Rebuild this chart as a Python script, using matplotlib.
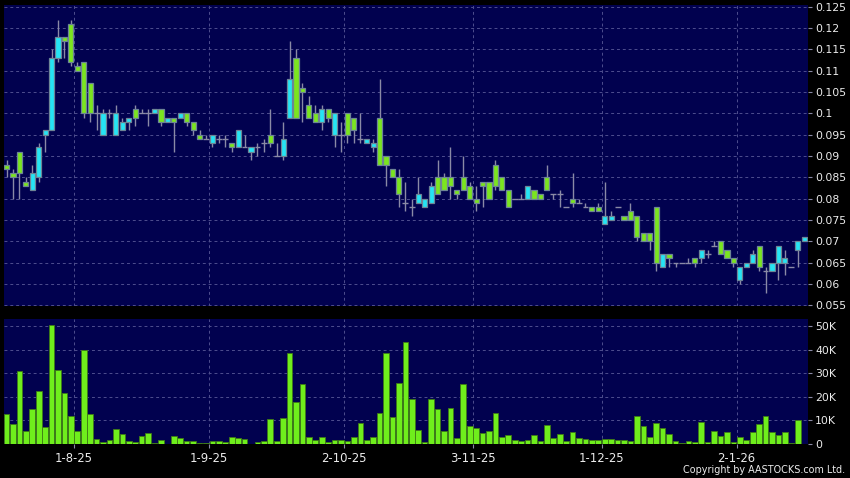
import numpy as np
import matplotlib
matplotlib.use("Agg")
import matplotlib.pyplot as plt
from matplotlib.ticker import FuncFormatter

# daily OHLC (bar 0 .. bar 124)
opens = [
    .088, .086, .091, .084, .082, .085, .095, .096, .113, .118,
    .121, .111, .112, .107, .100, .095, .100, .095, .096, .098,
    .101, .100, .100, .100, .101, .098, .099, .099, .100, .098,
    .095, .094, .093, .094, .094, .093, .092, .092, .091, .092,
    .093, .095, .090, .090, .099, .113, .106, .102, .100, .098,
    .101, .095, .095, .100, .099, .094, .093, .092, .099, .090,
    .087, .085, .079, .078, .079, .078, .079, .085, .085, .085,
    .082, .085, .083, .080, .084, .084, .088, .085, .082, .080,
    .080, .080, .082, .081, .085, .081, .081, .078, .080, .079,
    .078, .078, .078, .074, .075, .078, .076, .077, .076, .072,
    .072, .078, .064, .067, .065, .065, .065, .066, .066, .067,
    .069, .070, .068, .066, .061, .064, .065, .069, .063, .063,
    .065, .065, .064, .068, .070]
highs = [
    .089, .087, .091, .085, .088, .093, .096, .115, .122, .118,
    .122, .112, .112, .107, .102, .101, .101, .102, .099, .099,
    .102, .101, .101, .101, .101, .099, .099, .100, .100, .098,
    .096, .095, .095, .095, .095, .093, .096, .095, .092, .093,
    .094, .101, .093, .098, .117, .115, .107, .104, .102, .102,
    .101, .100, .098, .100, .099, .100, .094, .094, .108, .090,
    .087, .087, .084, .080, .085, .080, .084, .089, .086, .092,
    .082, .090, .084, .083, .084, .084, .089, .085, .082, .080,
    .081, .083, .082, .081, .088, .081, .082, .078, .086, .080,
    .079, .078, .079, .084, .077, .078, .076, .079, .076, .072,
    .072, .078, .067, .067, .065, .065, .066, .066, .068, .068,
    .070, .070, .068, .066, .064, .065, .068, .069, .064, .065,
    .069, .068, .064, .070, .071]
lows = [
    .085, .080, .080, .083, .082, .084, .091, .096, .112, .113,
    .111, .110, .099, .098, .096, .095, .099, .095, .096, .096,
    .097, .100, .097, .100, .097, .098, .091, .099, .097, .095,
    .094, .094, .092, .093, .092, .091, .092, .092, .089, .090,
    .091, .092, .090, .089, .099, .099, .098, .099, .098, .096,
    .098, .092, .091, .093, .093, .093, .093, .091, .088, .083,
    .085, .078, .077, .076, .079, .078, .079, .081, .082, .080,
    .080, .082, .080, .077, .078, .080, .082, .082, .078, .080,
    .080, .080, .080, .080, .082, .080, .078, .078, .078, .079,
    .078, .077, .077, .074, .075, .078, .075, .075, .070, .070,
    .068, .063, .064, .064, .064, .065, .065, .064, .065, .066,
    .069, .067, .066, .064, .060, .064, .065, .063, .058, .063,
    .061, .062, .064, .064, .070]
closes = [
    .087, .085, .086, .083, .086, .092, .096, .113, .118, .117,
    .112, .110, .100, .100, .100, .100, .100, .100, .098, .099,
    .099, .100, .100, .101, .098, .099, .098, .100, .098, .096,
    .094, .094, .095, .094, .094, .092, .096, .092, .092, .092,
    .093, .093, .090, .094, .108, .099, .105, .099, .098, .101,
    .099, .100, .095, .095, .096, .094, .094, .093, .088, .088,
    .085, .081, .079, .078, .081, .080, .083, .081, .082, .083,
    .081, .082, .080, .079, .083, .080, .083, .082, .078, .080,
    .080, .083, .080, .080, .082, .081, .081, .078, .079, .079,
    .078, .077, .077, .076, .076, .078, .075, .075, .071, .070,
    .070, .065, .067, .066, .065, .065, .065, .065, .068, .067,
    .069, .067, .066, .065, .064, .065, .067, .064, .063, .065,
    .069, .066, .064, .070, .071]
# volume in thousands of shares
volumes_k = [
    12.9, 8.3, 30.9, 5.6, 14.7, 22.5, 7.1, 50.3, 31.2, 21.6,
    12.0, 5.4, 39.8, 12.9, 2.0, 1.0, 1.7, 6.4, 4.2, 1.3,
    0.7, 3.5, 4.8, 0.5, 1.7, 0.1, 3.4, 2.7, 1.4, 1.3,
    0.3, 0.3, 1.4, 1.4, 0.7, 3.0, 2.5, 2.0, 0.1, 0.7,
    1.3, 10.6, 1.1, 11.0, 38.6, 17.7, 25.6, 3.0, 1.6, 3.0,
    0.8, 1.7, 1.6, 1.1, 3.1, 8.8, 1.8, 3.1, 13.1, 38.6,
    11.4, 25.8, 43.2, 19.1, 5.8, 1.0, 19.1, 15.0, 5.6, 15.3,
    2.5, 25.3, 7.6, 6.9, 4.5, 5.6, 13.3, 3.1, 3.8, 1.7,
    1.4, 1.8, 3.8, 1.3, 8.2, 2.4, 4.4, 1.4, 5.1, 2.5,
    2.3, 1.9, 1.9, 2.0, 2.3, 1.7, 1.7, 1.1, 11.7, 7.6,
    3.1, 9.0, 6.9, 4.4, 1.4, 0.3, 1.1, 0.7, 9.3, 0.8,
    5.4, 3.4, 5.1, 0.7, 3.0, 1.8, 5.1, 8.5, 11.9, 5.2,
    3.8, 5.1, 0.3, 10.2, 0.0]
month_labels = ["1-8-25", "1-9-25", "2-10-25", "3-11-25", "1-12-25", "2-1-26"]
month_first_bar = [11, 32, 53, 73, 93, 114]

o = np.array(opens)
h = np.array(highs)
l = np.array(lows)
c = np.array(closes)
vol = np.array(volumes_k) * 1000
x = np.arange(len(o))

BG = "#01014f"
GRID = "#4e4e8e"
UP = "#25e4f4"
DOWN = "#7be51f"
EDGE = "#6d8596"
WICK = "#8a8aa6"
TXT = "#ececec"

fig = plt.figure(figsize=(8.5, 4.78), dpi=100, facecolor="black")
ax = fig.add_axes([4 / 850, 1 - 306 / 478, 804 / 850, 301 / 478], facecolor=BG)
axv = fig.add_axes([4 / 850, 1 - 444 / 478, 804 / 850, 125 / 478], facecolor=BG)

# wicks
ax.vlines(x, l, h, color=WICK, lw=1.0, zorder=2)
up = c > o
down = c < o
flat = c == o
ax.bar(x[up], (c - o)[up], bottom=o[up], width=0.8, color=UP,
       edgecolor=EDGE, lw=0.9, zorder=3)
ax.bar(x[down], (o - c)[down], bottom=c[down], width=0.8, color=DOWN,
       edgecolor=EDGE, lw=0.9, zorder=3)
ax.hlines(c[flat], x[flat] - 0.45, x[flat] + 0.45, color=WICK, lw=1.0, zorder=3)

axv.bar(x, vol, width=0.88, color="#6fee1c", edgecolor="#3f7a16", lw=0.6, zorder=3)

xt = np.array(month_first_bar) - 0.5
for a in (ax, axv):
    a.set_xlim(-0.4, 124.6)
    a.set_xticks(xt)
    a.grid(True, color=GRID, lw=0.7, ls=(0, (3, 3)), zorder=0)
    for s in a.spines.values():
        s.set_visible(False)
    a.yaxis.tick_right()
    a.tick_params(axis="y", colors=WICK, labelcolor=TXT, labelsize=7.8,
                  length=3, width=0.8, pad=2)

ax.set_ylim(0.05484, 0.1254)
ax.set_yticks(np.linspace(0.055, 0.125, 15))
ax.yaxis.set_major_formatter(FuncFormatter(lambda v, p: f"{round(v, 3):g}"))
ax.tick_params(axis="x", length=0, labelbottom=False)

axv.set_ylim(0, 52970)
axv.set_yticks([0, 10000, 20000, 30000, 40000, 50000])
axv.yaxis.set_major_formatter(
    FuncFormatter(lambda v, p: "0" if v == 0 else f"{int(v / 1000)}K"))
axv.set_xticklabels(month_labels)
axv.tick_params(axis="x", colors=WICK, labelcolor=TXT, labelsize=8.4,
                length=3, width=0.8, pad=3)

fig.text(845 / 850, 1 - 470 / 478, "Copyright by AASTOCKS.com Ltd.",
         color=TXT, fontsize=6.9, ha="right", va="center")

fig.savefig("out.png", dpi=100, facecolor="black")
